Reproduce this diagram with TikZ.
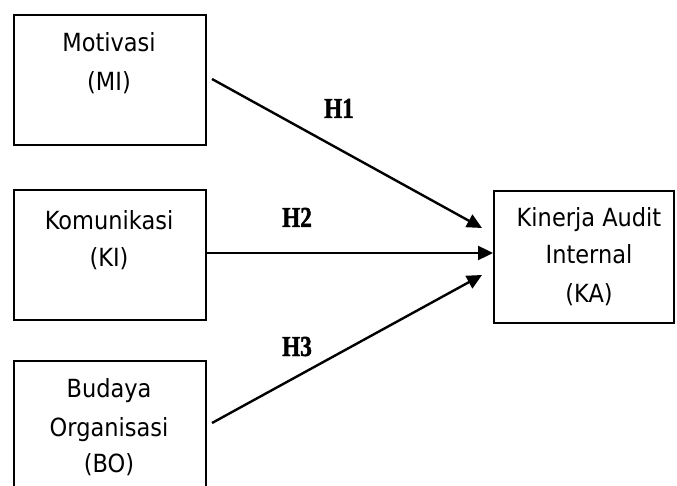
\documentclass[tikz,border=0pt]{standalone}
\usepackage{fontspec}
\setmainfont{DejaVu Sans}[FakeStretch=0.9]
\newfontfamily\hfont{Liberation Serif}[FakeStretch=0.8,FakeBold=1.5]
\usetikzlibrary{arrows.meta}
\begin{document}
\begin{tikzpicture}[x=1pt,y=-1pt,
  box/.style={draw,line width=2.2pt,anchor=north west,inner sep=0pt},
  lab/.style={anchor=base,inner sep=0pt,font=\fontsize{25}{30}\selectfont},
  hyp/.style={anchor=base west,inner sep=0pt,font=\hfont\bfseries\fontsize{29}{30}\selectfont},
  conn/.style={line width=2.4pt,-{Triangle[length=15pt,width=14pt]}}]
\useasboundingbox (0,0) rectangle (677,486);
\clip (0,0) rectangle (677,486);
% boxes
\node[box,minimum width=192pt,minimum height=130pt] (mi) at (13,14) {};
\node[box,minimum width=192pt,minimum height=130pt] (ki) at (13,189) {};
\node[box,minimum width=192pt,minimum height=160pt] (bo) at (13,360) {};
\node[box,minimum width=180pt,minimum height=132pt] (ka) at (493,190) {};
% texts
\node[lab] (t1a) at (109,52) {Motivasi};
\node[lab] (t1b) at (109,91) {(MI)};
\node[lab] (t2a) at (109,230) {Komunikasi};
\node[lab] (t2b) at (109,267) {(KI)};
\node[lab] (t3a) at (109,397) {Budaya};
\node[lab] (t3b) at (109,436) {Organisasi};
\node[lab] (t3c) at (109,472) {(BO)};
\node[lab] (t4a) at (589,227) {Kinerja Audit};
\node[lab] (t4b) at (589,264) {Internal};
\node[lab] (t4c) at (589,302) {(KA)};
% connector end points
\coordinate (s1) at (212,79);
\coordinate (e1) at (482,228);
\coordinate (s2) at (205,253);
\coordinate (e2) at (493,253);
\coordinate (s3) at (212,423);
\coordinate (e3) at (482,275);
\draw[conn] (s1) -- (e1);
\draw[conn] (s2) -- (e2);
\draw[conn] (s3) -- (e3);
% hypothesis labels
\node[hyp] (h1) at (324,118) {H1};
\node[hyp] (h2) at (282,227) {H2};
\node[hyp] (h3) at (282,356) {H3};
\end{tikzpicture}
\end{document}
